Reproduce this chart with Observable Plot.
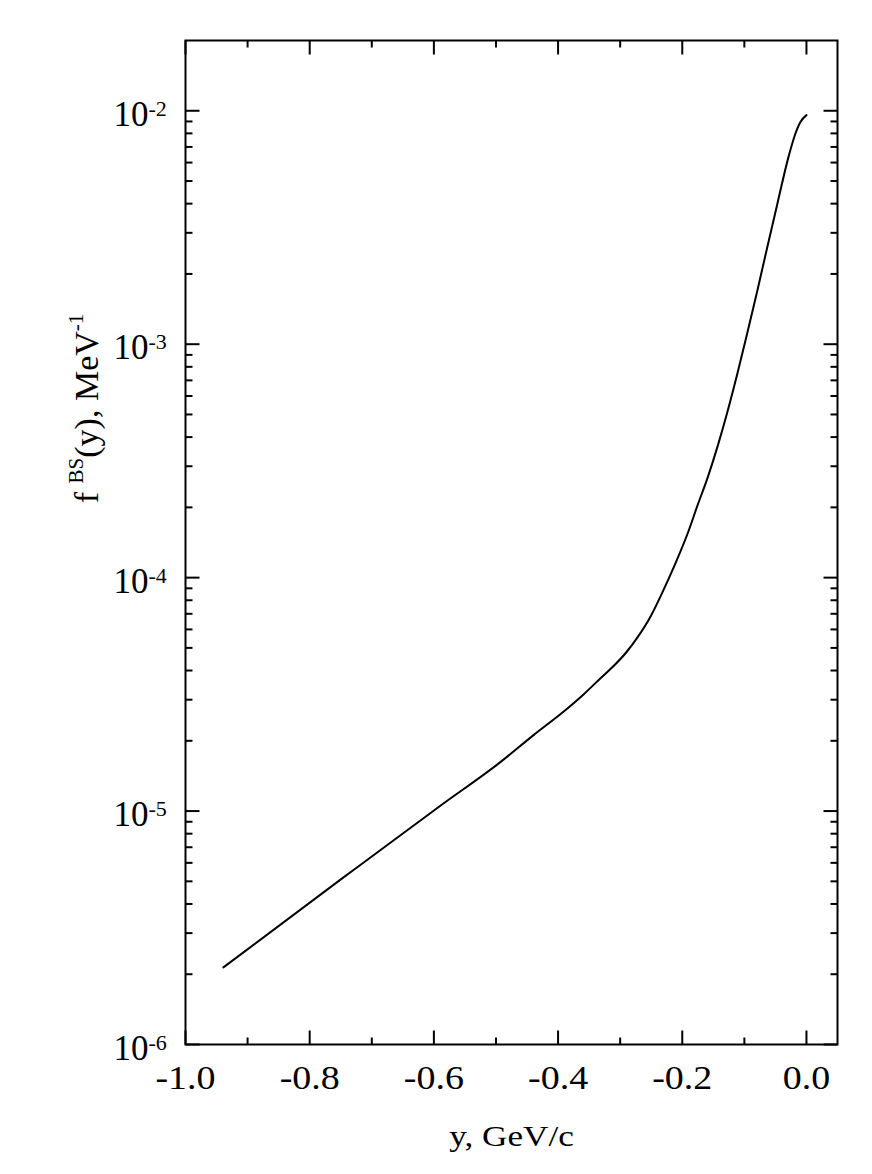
<!DOCTYPE html>
<html>
<head>
<meta charset="utf-8">
<script src="https://cdn.jsdelivr.net/npm/d3@7"></script>
<script src="https://cdn.jsdelivr.net/npm/@observablehq/plot@0.6"></script>
<style>
  body { margin: 0; background: #fff; }
  #chart svg { display: block; }
</style>
</head>
<body>
<div id="chart"></div>
<script>
// ---- data ----
const momentum = [-0.939, -0.745, -0.589, -0.493, -0.440, -0.385, -0.359, -0.332, -0.311, -0.290, -0.271, -0.251, -0.232, -0.211, -0.190, -0.176, -0.159, -0.143, -0.127, -0.111, -0.095, -0.079, -0.063, -0.047, -0.029, -0.018, -0.0097, 0.0];
const density  = [2.14e-6, 5.21e-6, 1.057e-5, 1.62e-5, 2.11e-5, 2.75e-5, 3.16e-5, 3.70e-5, 4.17e-5, 4.79e-5, 5.60e-5, 6.82e-5, 8.65e-5, 1.151e-4, 1.58e-4, 2.02e-4, 2.69e-4, 3.66e-4, 5.16e-4, 7.52e-4, 1.125e-3, 1.70e-3, 2.61e-3, 3.98e-3, 6.33e-3, 7.95e-3, 8.95e-3, 9.58e-3];

const xMajorTicks = [-1.0, -0.8, -0.6, -0.4, -0.2, 0.0];
const xTickLabels = ["-1.0", "-0.8", "-0.6", "-0.4", "-0.2", "0.0"];
const xMinorTicks = [-0.9, -0.7, -0.5, -0.3, -0.1];
const yMajorTicks = [1e-6, 1e-5, 1e-4, 1e-3, 1e-2];
const yTickBase = "10";
const yTickExponents = ["-6", "-5", "-4", "-3", "-2"];
const yMinorMantissas = [2, 3, 4, 5, 6, 7, 8, 9];
const xTitle = "y, GeV/c";
const yTitleParts = ["f ", "BS", "(y), MeV", "-1"];
const xDomain = [-1.0, 0.05];
const yDomain = [1e-6, 0.02];

// ---- derived tables ----
const curveData = momentum.map((x, i) => ({x, y: density[i]}));
const yMinorTicks = [];
for (const d of yMajorTicks) for (const m of yMinorMantissas) {
  const v = d * m;
  if (v < yDomain[1]) yMinorTicks.push(v);
}

const tickLine = {draw(ctx, l) { ctx.moveTo(0, 0); ctx.lineTo(0, -l); }};
const tickStyle = {shape: tickLine, anchor: "start", stroke: "black", strokeWidth: 2, fill: "none", strokeLinecap: "butt"};

function xTicks(data, len) {
  return [
    Plot.vector(data, {x: d => d, y: () => yDomain[0], length: len, rotate: 0, ...tickStyle}),
    Plot.vector(data, {x: d => d, y: () => yDomain[1], length: len, rotate: 180, ...tickStyle})
  ];
}
function yTicks(data, len) {
  return [
    Plot.vector(data, {y: d => d, x: () => xDomain[0], length: len, rotate: 90, ...tickStyle}),
    Plot.vector(data, {y: d => d, x: () => xDomain[1], length: len, rotate: -90, ...tickStyle})
  ];
}

const W = 872, H = 1174;
const mLeft = 185, mRight = 35, mTop = 40, mBottom = 130;
const frameMidY = mTop + (H - mTop - mBottom) / 2;

const chart = Plot.plot({
  width: W,
  height: H,
  marginLeft: mLeft,
  marginRight: mRight,
  marginTop: mTop,
  marginBottom: mBottom,
  style: {fontFamily: "'Liberation Serif', 'Times New Roman', serif", background: "white", color: "black"},
  x: {domain: xDomain, axis: null},
  y: {type: "log", domain: yDomain, axis: null},
  marks: [
    Plot.line(curveData, {x: "x", y: "y", stroke: "black", strokeWidth: 2, curve: "monotone-x"}),
    ...xTicks(xMajorTicks, 14),
    ...xTicks(xMinorTicks, 7),
    ...yTicks(yMajorTicks, 14),
    ...yTicks(yMinorTicks, 7),
    Plot.frame({stroke: "black", strokeWidth: 2}),
    // text marks (order used below): 0 x tick labels, 1 "10", 2 exponents, 3 x title, 4 y title
    Plot.text(xMajorTicks, {x: d => d, text: (d, i) => xTickLabels[i], frameAnchor: "bottom", dy: 44, lineAnchor: "bottom", fontSize: 33}),
    Plot.text(yMajorTicks, {y: d => d, text: () => yTickBase, frameAnchor: "left", textAnchor: "end", dx: -37, dy: 15, lineAnchor: "bottom", fontSize: 35}),
    Plot.text(yMajorTicks, {y: d => d, text: (d, i) => yTickExponents[i], frameAnchor: "left", textAnchor: "start", dx: -37, dy: 5, lineAnchor: "bottom", fontSize: 22}),
    Plot.text([0], {text: () => xTitle, frameAnchor: "bottom", dy: 101, lineAnchor: "bottom", fontSize: 30}),
    Plot.text([0], {text: () => yTitleParts.join(""), frameAnchor: "left", rotate: -90, textAnchor: "middle", lineAnchor: "bottom", dx: 97 - mLeft, dy: 408 - frameMidY, fontSize: 34})
  ]
});

document.getElementById("chart").appendChild(chart);

// ---- text styling: superscripts and horizontal stretch ----
const NS = "http://www.w3.org/2000/svg";
const textGroups = chart.querySelectorAll('g[aria-label="text"]');
const gXLabels = textGroups[0], gXTitle = textGroups[3], gYTitle = textGroups[4];

if (gYTitle) {
  const yt = gYTitle.querySelector("text");
  yt.textContent = "";
  let prev = 0;
  yTitleParts.forEach((s, i) => {
    const sup = i % 2 === 1;
    const ts = document.createElementNS(NS, "tspan");
    ts.textContent = s;
    const shift = sup ? -15 : 0;
    if (sup) ts.setAttribute("font-size", 21);
    ts.setAttribute("dy", shift - prev);
    prev = shift;
    yt.appendChild(ts);
  });
}
function stretch(group, k) {
  if (!group) return;
  group.querySelectorAll("text").forEach(t => {
    const len = t.getComputedTextLength();
    t.setAttribute("textLength", (len * k).toFixed(1));
    t.setAttribute("lengthAdjust", "spacingAndGlyphs");
  });
}
stretch(gXLabels, 1.15);
stretch(gXTitle, 1.17);
</script>
</body>
</html>
